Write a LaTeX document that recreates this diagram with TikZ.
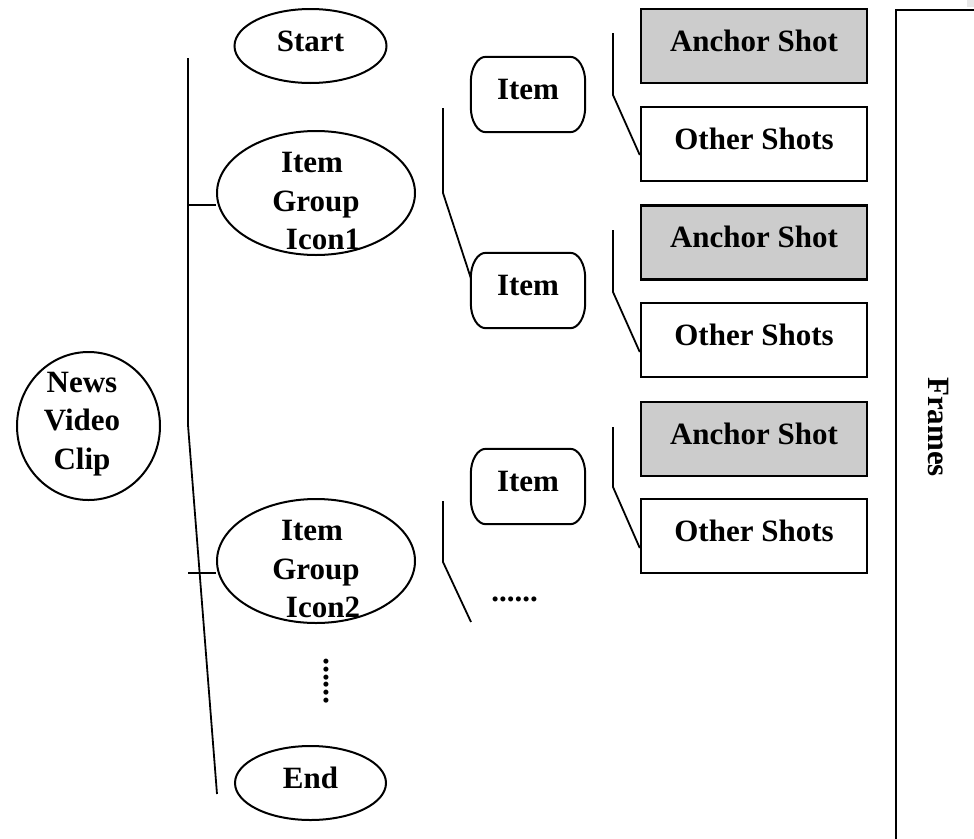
\documentclass[tikz,border=0pt]{standalone}
\usepackage{fontspec}
\setmainfont{Liberation Serif}
\usetikzlibrary{shapes.geometric}
\definecolor{shotgray}{RGB}{204,204,204}
\definecolor{patchgray}{RGB}{232,232,232}
\begin{document}
\begin{tikzpicture}[x=1pt,y=-1pt,
  every node/.style={font=\fontsize{31}{38.5}\selectfont\bfseries, inner sep=0pt},
  oval/.style={ellipse, draw, line width=2pt},
  lbl/.style={text height=20pt, text depth=10pt},
  shotbox/.style={rectangle, draw, line width=2.5pt, minimum width=226pt, minimum height=74pt, text height=20pt, text depth=10pt},
  anchorbox/.style={shotbox, fill=shotgray},
  itembox/.style={rectangle, minimum width=114pt, minimum height=75pt, text height=20pt, text depth=10pt},
  conn/.style={line width=1.8pt}
]
\useasboundingbox (0,0) rectangle (974,838);
\fill[patchgray] (967,0) rectangle (974,7);

% Frames box (extends beyond the picture)
\begin{scope}
\clip (0,0) rectangle (974,838);
\node[draw, line width=2.2pt, minimum width=200pt, minimum height=900pt, anchor=north west] (framesbox) at (895,9) {};
\end{scope}
\node[rotate=-90] (framest) at (938,427) {Frames};

% left column
\node[oval, minimum width=143pt, minimum height=148pt] (news) at (88.5,426) {};
\node[anchor=base] (newst) at (82,392) {\begin{tabular}[t]{@{}c@{}}News\\Video\\Clip\end{tabular}};

\node[oval, minimum width=152pt, minimum height=74pt, lbl] (start) at (310.5,46) {Start};
\node[oval, minimum width=198pt, minimum height=124pt] (ig1) at (316,193) {};
\node[anchor=base] (ig1t) at (316,172.5) {\begin{tabular}[t]{@{}c@{}}Item\hspace*{8pt}\\Group\\\hspace*{14pt}Icon1\end{tabular}};
\node[oval, minimum width=198pt, minimum height=124pt] (ig2) at (316,561) {};
\node[anchor=base] (ig2t) at (316,540.5) {\begin{tabular}[t]{@{}c@{}}Item\hspace*{8pt}\\Group\\\hspace*{14pt}Icon2\end{tabular}};
\node[anchor=base, rotate=90] (vdots) at (328,681) {......};
\node[oval, minimum width=151pt, minimum height=74pt, lbl] (end) at (310.5,783) {End};

% items
\node[itembox] (it1) at (528,94.5) {Item};
\node[itembox] (it2) at (528,290.5) {Item};
\node[itembox] (it3) at (528,486.5) {Item};
\foreach \n in {it1,it2,it3}{
  \draw[line width=2pt] ([xshift=15pt]\n.north west) -- ([xshift=-15pt]\n.north east)
    arc[start angle=90,end angle=0,x radius=15pt,y radius=25pt]
    -- ([yshift=25pt]\n.south east)
    arc[start angle=0,end angle=-90,x radius=15pt,y radius=25pt]
    -- ([xshift=15pt]\n.south west)
    arc[start angle=-90,end angle=-180,x radius=15pt,y radius=25pt]
    -- ([yshift=-25pt]\n.north west)
    arc[start angle=180,end angle=90,x radius=15pt,y radius=25pt] -- cycle;
}
\node[anchor=base] (hdots) at (514.5,601) {......};

% shots
\node[anchorbox] (an1) at (754,46) {Anchor Shot};
\node[shotbox] (oth1) at (754,144) {Other Shots};
\node[anchorbox] (an2) at (754,242.5) {Anchor Shot};
\node[shotbox] (oth2) at (754,340) {Other Shots};
\node[anchorbox] (an3) at (754,439) {Anchor Shot};
\node[shotbox] (oth3) at (754,536) {Other Shots};

% connectors
\coordinate (sp1) at (188,58);
\coordinate (sp2) at (188,425);
\coordinate (sp3) at (217,794);
\draw[conn] (sp1) -- (sp2) -- (sp3);
\coordinate (tk1) at (188,205);
\draw[conn] (tk1) -- (tk1 -| ig1.west);
\coordinate (tk2) at (188,573);
\draw[conn] (tk2) -- (tk2 -| ig2.west);

\coordinate (b1) at (443,108);
\coordinate (b1k) at (443,193);
\draw[conn] (b1) -- (b1k) -- ([yshift=12.5pt]it2.west);
\coordinate (b2) at (443,501);
\coordinate (b2k) at (443,562);
\coordinate (b2e) at (471,622);
\draw[conn] (b2) -- (b2k) -- (b2e);

\coordinate (s1) at (613,33);
\coordinate (s1k) at (613,95);
\draw[conn] (s1) -- (s1k) -- ([yshift=-11pt]oth1.west);
\coordinate (s2) at (613,230);
\coordinate (s2k) at (613,292);
\draw[conn] (s2) -- (s2k) -- ([yshift=-12pt]oth2.west);
\coordinate (s3) at (613,427);
\coordinate (s3k) at (613,487);
\draw[conn] (s3) -- (s3k) -- ([yshift=-12pt]oth3.west);
\end{tikzpicture}
\end{document}
